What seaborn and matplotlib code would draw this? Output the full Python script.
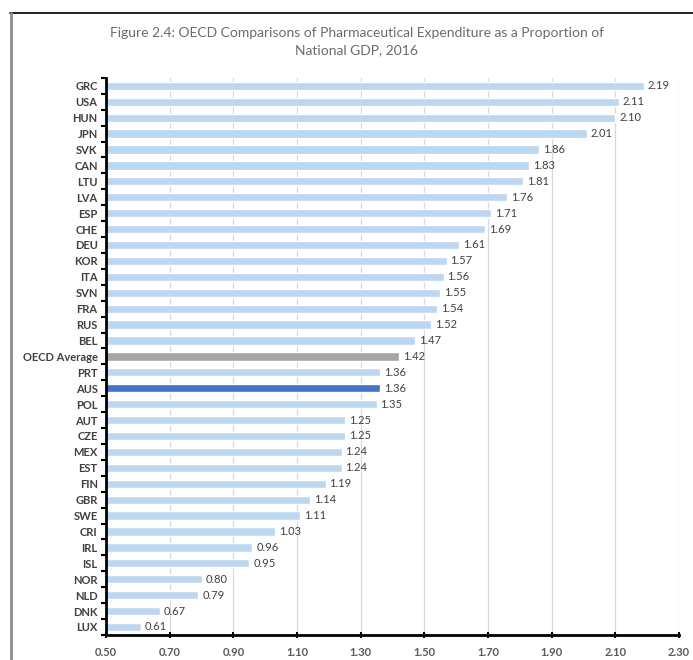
import matplotlib
matplotlib.use("Agg")
import matplotlib.pyplot as plt
from matplotlib.lines import Line2D
from matplotlib.ticker import FixedLocator
import numpy as np
import pandas as pd
import seaborn as sns

countries = ["GRC", "USA", "HUN", "JPN", "SVK", "CAN", "LTU", "LVA", "ESP", "CHE",
             "DEU", "KOR", "ITA", "SVN", "FRA", "RUS", "BEL", "OECD Average", "PRT",
             "AUS", "POL", "AUT", "CZE", "MEX", "EST", "FIN", "GBR", "SWE", "CRI",
             "IRL", "ISL", "NOR", "NLD", "DNK", "LUX"]
spend_pct_gdp = [2.19, 2.11, 2.10, 2.01, 1.86, 1.83, 1.81, 1.76, 1.71, 1.69,
                 1.61, 1.57, 1.56, 1.55, 1.54, 1.52, 1.47, 1.42, 1.36,
                 1.36, 1.35, 1.25, 1.25, 1.24, 1.24, 1.19, 1.14, 1.11, 1.03,
                 0.96, 0.95, 0.80, 0.79, 0.67, 0.61]
x_ticks = [0.50, 0.70, 0.90, 1.10, 1.30, 1.50, 1.70, 1.90, 2.10, 2.30]

df = pd.DataFrame({"country": countries, "value": spend_pct_gdp})

sns.set_theme(style="white")
plt.rcParams["font.family"] = ["Lato", "DejaVu Sans"]

palette = {c: "#BDD7EE" for c in countries}
palette["OECD Average"] = "#A5A5A5"
palette["AUS"] = "#4472C4"

fig = plt.figure(figsize=(6.93, 6.60), dpi=100)
ax = fig.add_axes([0.153, 0.038, 0.827, 0.844])

sns.barplot(data=df, y="country", x="value", hue="country", palette=palette,
            order=countries, orient="h", width=0.52, legend=False, ax=ax,
            saturation=1, zorder=3)

ax.set_xlim(x_ticks[0], x_ticks[-1])
ax.set_ylim(len(countries) - 0.5, -0.5)
ax.set_xticks(x_ticks)
ax.set_xticklabels([f"{t:.2f}" for t in x_ticks])
ax.xaxis.grid(True, color="#D9D9D9", linewidth=0.9, zorder=0)
ax.yaxis.grid(False)
ax.set_axisbelow(True)

# value labels just past the end of each bar
for i, v in enumerate(spend_pct_gdp):
    ax.text(v + 0.012, i, f"{v:.2f}", va="center", ha="left",
            fontsize=8, color="#404040")

ax.set_xlabel("")
ax.set_ylabel("")

for side in ["top", "right"]:
    ax.spines[side].set_visible(False)
for side in ["left", "bottom"]:
    ax.spines[side].set_color("black")
    ax.spines[side].set_linewidth(2.0)
    ax.spines[side].set_zorder(5)

ax.tick_params(axis="x", which="major", bottom=True, direction="inout", length=5,
               width=1.5, color="black", labelsize=8, labelcolor="#595959", pad=6)
for lbl in ax.get_xticklabels():
    lbl.set_fontweight("bold")

ax.tick_params(axis="y", which="major", left=True, length=0, labelsize=8,
               labelcolor="#404040", pad=6)
for lbl in ax.get_yticklabels():
    lbl.set_fontweight("bold")
ax.yaxis.set_minor_locator(FixedLocator(np.arange(-0.5, len(countries), 1.0)))
ax.tick_params(axis="y", which="minor", left=True, direction="out", length=3.5,
               width=1.5, color="black")

fig.text(0.515, 0.950, "Figure 2.4: OECD Comparisons of Pharmaceutical Expenditure as a Proportion of",
         ha="center", va="center", fontsize=10, color="#6B6B6B")
fig.text(0.515, 0.924, "National GDP, 2016",
         ha="center", va="center", fontsize=10, color="#6B6B6B")

# surrounding frame
fig.add_artist(Line2D([0.0145, 1.0], [0.981, 0.981], color="#222222", linewidth=1.4,
                      transform=fig.transFigure))
fig.add_artist(Line2D([0.0155, 0.0155], [0.0, 0.981], color="#8C8C8C", linewidth=2.0,
                      transform=fig.transFigure))

fig.savefig("out.png", dpi=100)
